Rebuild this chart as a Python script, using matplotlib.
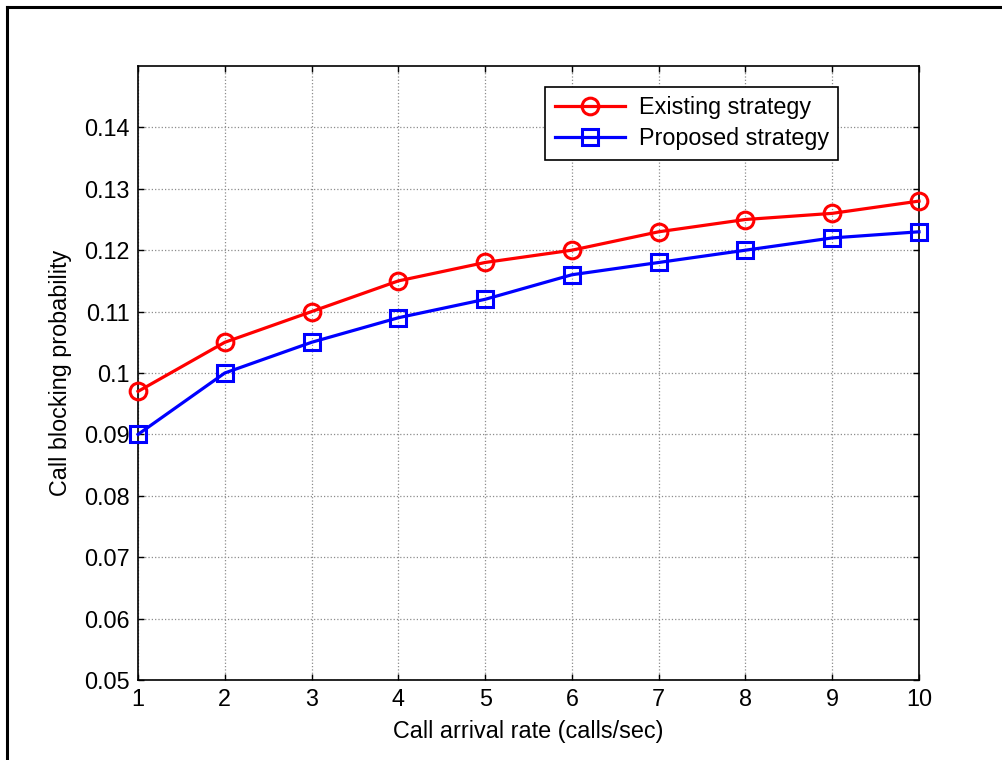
import numpy as np
import matplotlib.pyplot as plt
from matplotlib.lines import Line2D

plt.rcParams['font.family'] = ['Liberation Sans', 'DejaVu Sans']

# call arrival rate and blocking probabilities
rate = [1, 2, 3, 4, 5, 6, 7, 8, 9, 10]
existing = [0.097, 0.105, 0.110, 0.115, 0.118, 0.120, 0.123, 0.125, 0.126, 0.128]
proposed = [0.090, 0.100, 0.105, 0.109, 0.112, 0.116, 0.118, 0.120, 0.122, 0.123]
yticks = [0.05, 0.06, 0.07, 0.08, 0.09, 0.1, 0.11, 0.12, 0.13, 0.14]
ytick_labels = ['0.05', '0.06', '0.07', '0.08', '0.09', '0.1', '0.11', '0.12', '0.13', '0.14']

fs = 16.8

fig = plt.figure(figsize=(10.03, 7.6), dpi=100)
ax = fig.add_axes([138/1003, 1 - 680/760, 781/1003, 614/760])

ax.plot(rate, existing, '-o', color='red', lw=2.3, ms=12, mew=2.2,
        mfc='none', label='Existing strategy', clip_on=False, zorder=3)
ax.plot(rate, proposed, '-s', color='blue', lw=2.3, ms=11.5, mew=2.2,
        mfc='none', label='Proposed strategy', clip_on=False, zorder=3)

ax.set_xlim(1, 10)
ax.set_ylim(0.05, 0.15)
ax.set_xticks(rate)
ax.set_yticks(yticks)
ax.set_yticklabels(ytick_labels)
ax.tick_params(direction='in', top=True, right=True, length=4, width=1,
               labelsize=fs, pad=6)
ax.grid(True, color='#8c8c8c', linestyle=':', linewidth=0.9)
for s in ax.spines.values():
    s.set_linewidth(1.2)

ax.set_xlabel('Call arrival rate (calls/sec)', fontsize=fs, labelpad=6)
ax.set_ylabel('Call blocking probability', fontsize=fs, labelpad=9)

leg = ax.legend(loc='upper right', bbox_to_anchor=(0.8963, 0.9658),
                borderaxespad=0, fontsize=fs, fancybox=False,
                edgecolor='black', framealpha=1, handlelength=3.0,
                borderpad=0.4, labelspacing=0.35, handletextpad=0.6)
leg.get_frame().set_linewidth(1.2)

# outer frame around the figure
fig.add_artist(Line2D([7/1003, 7/1003], [0, 1 - 7/760], color='black',
                      lw=2.2, transform=fig.transFigure))
fig.add_artist(Line2D([7/1003, 1], [1 - 7/760, 1 - 7/760], color='black',
                      lw=2.2, transform=fig.transFigure))

fig.savefig('out.png', dpi=100)
